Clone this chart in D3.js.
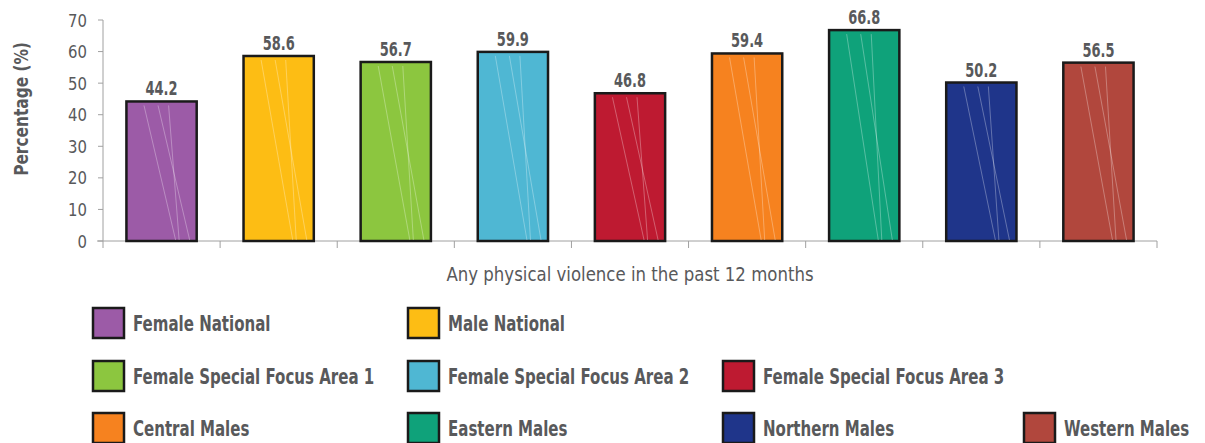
<!DOCTYPE html>
<html><head><meta charset="utf-8">
<script src="https://cdn.jsdelivr.net/npm/d3@7"></script>
<style>
body{margin:0;background:#fff;}
text{font-family:"DejaVu Sans Condensed","Liberation Sans Narrow",sans-serif;font-stretch:condensed;fill:#58595b;}
</style></head><body>
<svg id="c" width="1205" height="443"></svg>
<script>
const categories = ["Female National","Male National","Female Special Focus Area 1","Female Special Focus  Area 2","Female Special Focus Area 3","Central Males","Eastern Males","Northern Males","Western Males"];
const values = [44.2,58.6,56.7,59.9,46.8,59.4,66.8,50.2,56.5];
const colors = ["#9c5ba7","#fdbd14","#8cc63f","#4fb7d3","#be1a31","#f6821f","#0fa27a","#1f358a","#b1473d"];
const yTicks = [0,10,20,30,40,50,60,70];
const xTitle = "Any physical violence in the past 12 months";
const yTitle = "Percentage (%)";
// legend layout: row index and column index per category
const legendRows = [0,0,1,1,1,2,2,2,2];
const legendColIdx = [0,1,0,1,2,0,1,2,3];

const svg = d3.select("#c");
const x0 = 103, x1 = 1157, yb = 241, yt = 20;
const x = d3.scaleBand().domain(categories).range([x0,x1]).paddingInner(0.4).paddingOuter(0.2);
const y = d3.scaleLinear().domain([0,70]).range([yb,yt]);
const legX = d3.scaleOrdinal().domain([0,1,2,3]).range([92,407,722,1023]);
const legY = d3.scaleOrdinal().domain([0,1,2]).range([323,376,428]);

function ntext(parent, tx, ty, str, size, weight, anchor, sx, rot){
  const g = parent.append("g").attr("transform",`translate(${tx},${ty})` + (rot?` rotate(${rot})`:"") + ` scale(${sx},1)`);
  return g.append("text").attr("text-anchor",anchor).style("font-size",size+"px").style("font-weight",weight).text(str);
}

// y axis
const ga = svg.append("g");
ga.append("line").attr("x1",x0).attr("x2",x0).attr("y1",yt).attr("y2",yb).attr("stroke","#a0a0a0").attr("stroke-width",1);
yTicks.forEach(t=>{
  ga.append("line").attr("x1",x0-5).attr("x2",x0).attr("y1",y(t)).attr("y2",y(t)).attr("stroke","#a0a0a0");
  ntext(ga, x0-16, y(t)+6.5, t, 18, "normal", "end", 0.92);
});
// x axis
ga.append("line").attr("x1",x0-6).attr("x2",x1).attr("y1",yb).attr("y2",yb).attr("stroke","#a0a0a0");
for(let i=0;i<=categories.length;i++){
  const xx = x0 + i*(x1-x0)/categories.length;
  ga.append("line").attr("x1",xx).attr("x2",xx).attr("y1",yb).attr("y2",yb+7).attr("stroke","#a0a0a0");
}

// bars
const bars = svg.append("g");
categories.forEach((c,i)=>{
  const bx = x(c), bw = x.bandwidth(), top = y(values[i]);
  bars.append("rect").attr("x",bx).attr("y",top).attr("width",bw).attr("height",yb-top)
    .attr("fill",colors[i]).attr("stroke","#1a1a1a").attr("stroke-width",2.5);
  [[0.25,0.7],[0.45,0.9],[0.6,0.75]].forEach(s=>{
    bars.append("line").attr("x1",bx+bw*s[0]).attr("y1",top+4).attr("x2",bx+bw*s[1]).attr("y2",yb-1)
      .attr("stroke","#fff").attr("stroke-opacity",0.3).attr("stroke-width",1);
  });
  ntext(bars, bx+bw/2, top-6, values[i].toFixed(1), 19, "bold", "middle", 0.76);
});

// titles
ntext(svg, (x0+x1)/2, 281, xTitle, 19, "normal", "middle", 0.97);
ntext(svg, 28, 109, yTitle, 19, "bold", "middle", 0.9, -90);

// legend
const lg = svg.append("g");
categories.forEach((c,i)=>{
  const lx = legX(legendColIdx[i]), ly = legY(legendRows[i]);
  lg.append("rect").attr("x",lx+1).attr("y",ly-15).attr("width",31).attr("height",30)
    .attr("fill",colors[i]).attr("stroke","#1a1a1a").attr("stroke-width",2.5);
  ntext(lg, lx+41, ly+8, c, 22, "bold", "start", 0.76);
});
</script>
</body></html>
